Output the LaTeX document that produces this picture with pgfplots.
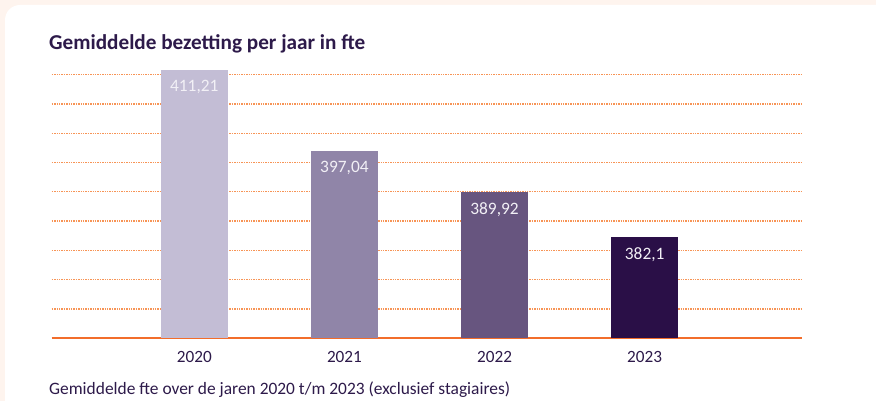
\documentclass[border=0pt]{standalone}
\usepackage{pgfplots}
\pgfplotsset{compat=1.18}
\usepackage{fontspec}
\setmainfont{Carlito}
\definecolor{bgpeach}{HTML}{FEF4EE}
\definecolor{txtpurple}{HTML}{2D1A4A}
\definecolor{cA}{HTML}{C3BDD5}
\definecolor{cB}{HTML}{9085A8}
\definecolor{cC}{HTML}{67557F}
\definecolor{cD}{HTML}{2A0F47}
\definecolor{gridorange}{HTML}{F79456}
\definecolor{baseorange}{HTML}{F26D2B}
\definecolor{lbl}{HTML}{F2F0F6}
\begin{document}
\begin{tikzpicture}
\useasboundingbox (0,0) rectangle (876bp,401bp);
\fill[bgpeach] (0,0) rectangle (876bp,401bp);
\fill[white, rounded corners=15bp] (5bp,-30bp) rectangle (920bp,396bp);
\node[anchor=base west, inner sep=0pt, text=txtpurple, font=\fontsize{21.2bp}{25bp}\selectfont\bfseries] at (49bp,351bp) {Gemiddelde bezetting per jaar in fte};
\node[anchor=base west, inner sep=0pt, text=txtpurple, font=\fontsize{17.4bp}{20bp}\selectfont] at (49bp,6.7bp) {Gemiddelde fte over de jaren 2020 t/m 2023 (exclusief stagiaires)};
\begin{axis}[
  at={(51.7bp,62.7bp)}, anchor=south west,
  scale only axis, width=750.6bp, height=272.9bp,
  xmin=-0.95, xmax=4.05, ymin=364.52, ymax=412,
  axis x line*=bottom, axis y line*=left,
  x axis line style={-, color=baseorange, line width=1.8bp},
  y axis line style={draw=none},
  major tick length=0pt,
  xtick={0,1,2,3}, xticklabels={2020,2021,2022,2023},
  xticklabel style={anchor=center, yshift=-18.7bp, text=txtpurple, font=\fontsize{17.2bp}{20bp}\selectfont},
  ytick={369.62,374.71,379.81,384.91,390.01,395.10,400.20,405.30,410.40},
  yticklabels={},
  ymajorgrids,
  y grid style={color=gridorange, line width=1.4bp, dash pattern=on 1.4bp off 1.0bp},
  ybar, bar width=66.7bp, bar shift=0pt,
  point meta=explicit symbolic,
  nodes near coords,
  nodes near coords style={anchor=center, yshift=-17bp, text=lbl, font=\fontsize{17.4bp}{20bp}\selectfont},
  clip=false,
]
\addplot[fill=cA, draw=none] table[x=x, y=y, meta=label] {
x y label
0 411.21 411,21
};
\addplot[fill=cB, draw=none] table[x=x, y=y, meta=label] {
x y label
1 397.04 397,04
};
\addplot[fill=cC, draw=none] table[x=x, y=y, meta=label] {
x y label
2 389.92 389,92
};
\addplot[fill=cD, draw=none] table[x=x, y=y, meta=label] {
x y label
3 382.1 382,1
};
\end{axis}
\end{tikzpicture}
\end{document}
